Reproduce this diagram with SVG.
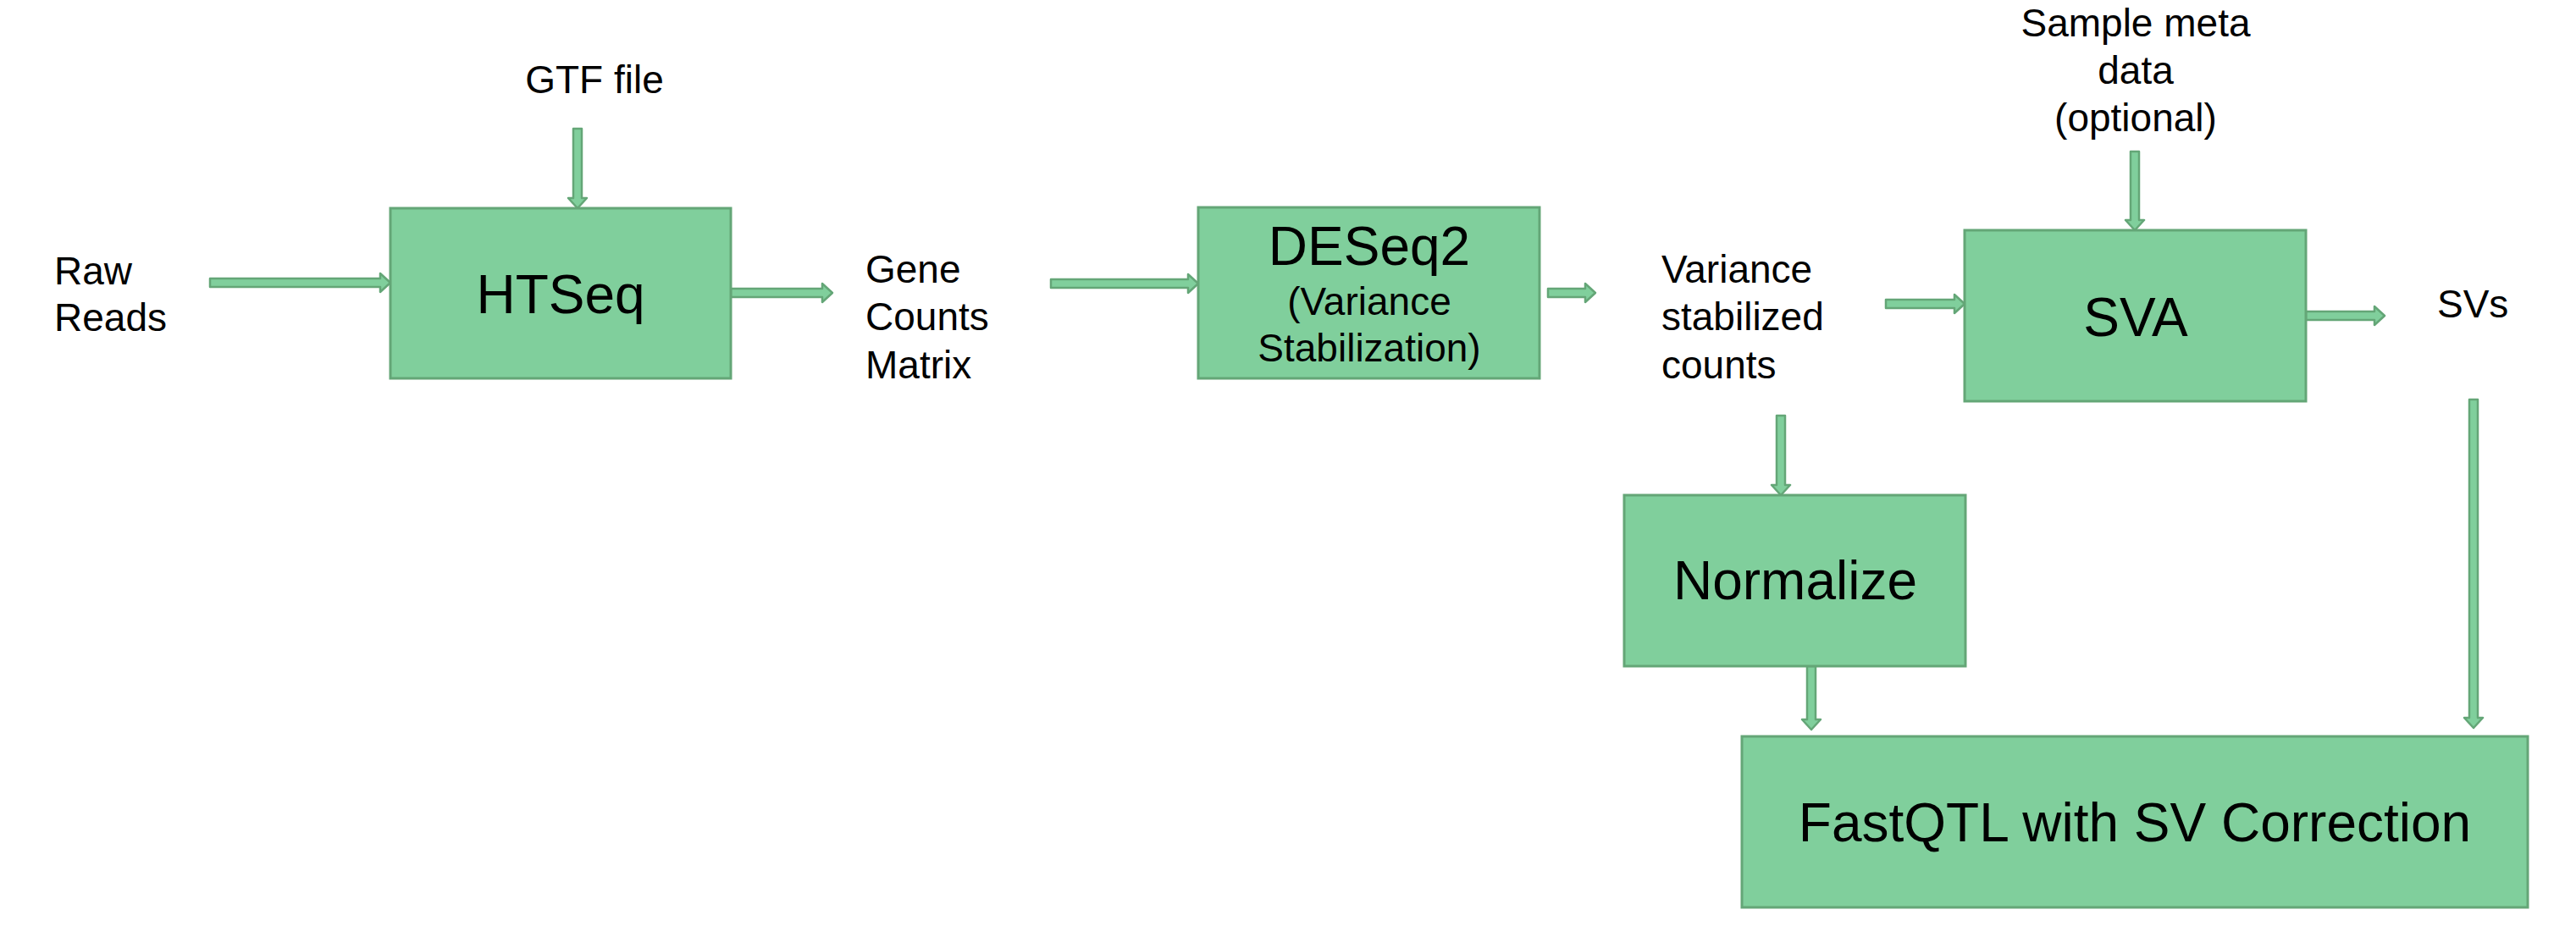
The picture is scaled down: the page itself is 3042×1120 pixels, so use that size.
<svg xmlns="http://www.w3.org/2000/svg" width="3042" height="1120" viewBox="0 0 3042 1120">
<style>
.box{fill:#80cf9c;stroke:#64a677;stroke-width:3}
.arr{fill:#80cf9c;stroke:#64a677;stroke-width:2.5;stroke-linejoin:round}
text{font-family:"Liberation Sans",Arial,sans-serif;fill:#000}
.big{font-size:64px;text-anchor:middle}
.lbl{font-size:46px}
.mid{text-anchor:middle}
</style>
<rect width="3042" height="1120" fill="#ffffff"/>
<g id="connectors">
<path class="arr" d="M248,329 H449 V323 L461,334 L449,345 V339 H248 Z"/>
<path class="arr" d="M863,341 H971 V335 L983,346 L971,357 V351 H863 Z"/>
<path class="arr" d="M1241,330 H1403 V324 L1415,335 L1403,346 V340 H1241 Z"/>
<path class="arr" d="M1828,341 H1872 V335 L1884,346 L1872,357 V351 H1828 Z"/>
<path class="arr" d="M2227,354 H2308 V348 L2320,359 L2308,370 V364 H2227 Z"/>
<path class="arr" d="M2723,368 H2804 V362 L2816,373 L2804,384 V378 H2723 Z"/>
<path class="arr" d="M677,152 V234 H671 L682,246 L693,234 H687 V152 Z"/>
<path class="arr" d="M2516,179 V260 H2510 L2521,272 L2532,260 H2526 V179 Z"/>
<path class="arr" d="M2098,491 V573 H2092 L2103,585 L2114,573 H2108 V491 Z"/>
<path class="arr" d="M2134,787 V850 H2128 L2139,862 L2150,850 H2144 V787 Z"/>
<path class="arr" d="M2916,472 V848 H2910 L2921,860 L2932,848 H2926 V472 Z"/>
</g>
<g id="raw-reads">
<text class="lbl" x="64" y="336">Raw</text>
<text class="lbl" x="64" y="391">Reads</text>
</g>
<g id="gtf-file">
<text class="lbl mid" x="702" y="110">GTF file</text>
</g>
<g id="htseq">
<rect class="box" x="461" y="246" width="402" height="201"/>
<text class="big" x="662" y="370">HTSeq</text>
</g>
<g id="gene-counts">
<text class="lbl" x="1022" y="334">Gene</text>
<text class="lbl" x="1022" y="390">Counts</text>
<text class="lbl" x="1022" y="447">Matrix</text>
</g>
<g id="deseq2">
<rect class="box" x="1415" y="245" width="403" height="202"/>
<text class="big" x="1617" y="313">DESeq2</text>
<text class="lbl mid" x="1617" y="372">(Variance</text>
<text class="lbl mid" x="1617" y="427">Stabilization)</text>
</g>
<g id="variance-stabilized">
<text class="lbl" x="1962" y="334">Variance</text>
<text class="lbl" x="1962" y="390">stabilized</text>
<text class="lbl" x="1962" y="447">counts</text>
</g>
<g id="sample-meta">
<text class="lbl mid" x="2522" y="43">Sample meta</text>
<text class="lbl mid" x="2522" y="99">data</text>
<text class="lbl mid" x="2522" y="155">(optional)</text>
</g>
<g id="sva">
<rect class="box" x="2320" y="272" width="403" height="202"/>
<text class="big" x="2522" y="397">SVA</text>
</g>
<g id="svs">
<text class="lbl" x="2878" y="375">SVs</text>
</g>
<g id="normalize">
<rect class="box" x="1918" y="585" width="403" height="202"/>
<text class="big" x="2120" y="708">Normalize</text>
</g>
<g id="fastqtl">
<rect class="box" x="2057" y="870" width="928" height="202"/>
<text class="big" x="2521" y="994">FastQTL with SV Correction</text>
</g>
</svg>
